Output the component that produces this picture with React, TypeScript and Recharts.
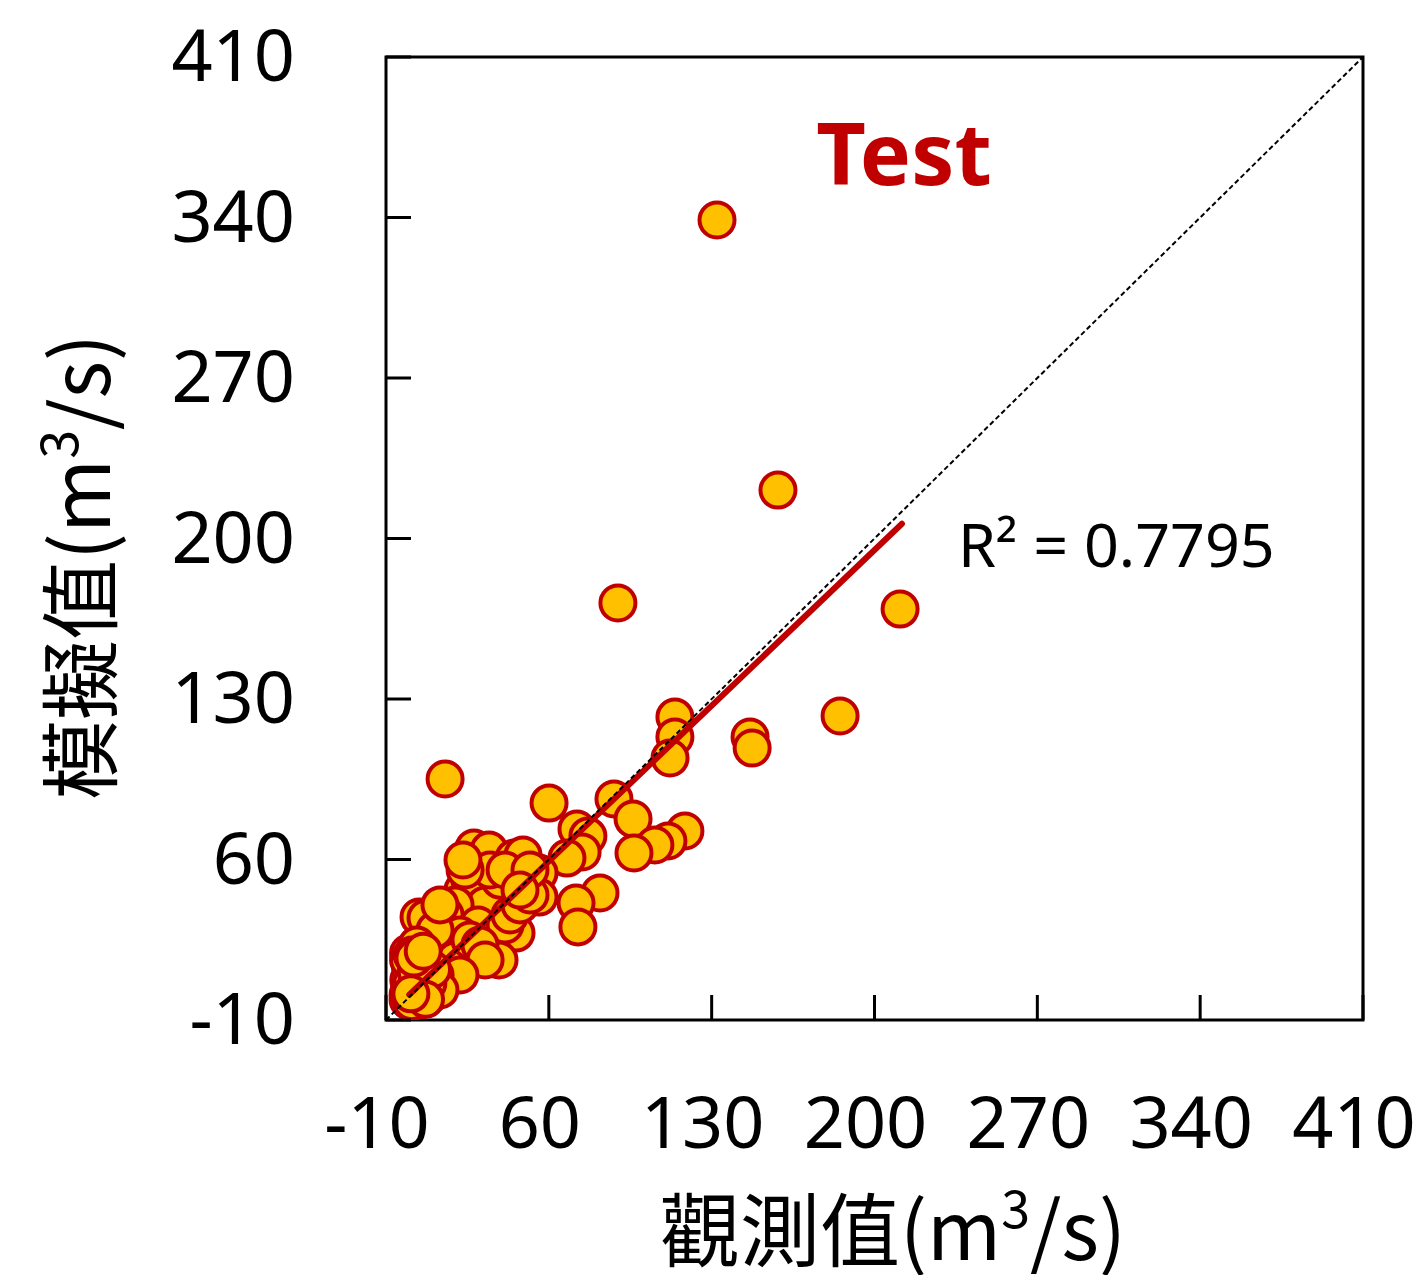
import React from "react";
import { ScatterChart, Scatter, XAxis, YAxis, ReferenceArea, ReferenceLine } from "recharts";

// observed vs simulated discharge (m3/s), test period
const TICKS = [-10, 60, 130, 200, 270, 340, 410];
const OBS = [
  132.3, 158.5, 89.7, 211.0, 185.2, 114.2, 114.2, 112.1, 146.5, 147.4,
  15.4, 60.1, 88.0, 96.2, 118.5, 111.2, 105.6, 96.6, 72.1, 76.8,
  74.3, 67.8, 82.0, 71.7, 72.5, 27.8, 34.3, 45.0, 48.9, 55.8,
  55.8, 47.2, 23.1, 41.6, 37.3, 4.2, 7.2, 8.5, 23.1, 27.4,
  36.0, 45.9, 38.6, 25.3, 18.8, 17.1, 12.8, 7.2, 1.6, 0.4,
  0.5, -0.3, 26.1, 30.4, 32.6, 19.7, 15.4, 29.6, 41.2, 43.3,
  47.6, 51.9, 39.0, 34.7, 21.8, 13.2, 8.9, 4.6, 0.3, 2.5,
  11.1, 15.4, 19.7, 26.1, 30.4, 32.6, 21.8, 8.9, 4.6, 0.3,
  0.0, -0.5, 0.8, 3.3, 13.2, 24.0, 41.2, 51.9, 47.6, 1.0,
  -0.5, 2.5, 6.8, -0.2, -0.3, 1.2, 5.5, 11.1, 13.2, 2.0,
  3.0, 5.0, 1.0, 4.0, 6.0, 3.0, 8.0, 10.0, 2.0, 6.0,
  1.0, 7.0, 23.1, 0.7,
];
const SIM = [
  338.9, 221.1, 171.9, 169.2, 122.6, 122.1, 113.4, 104.3, 113.4, 108.6,
  95.1, 84.6, 86.4, 77.7, 72.4, 68.1, 66.3, 62.8, 73.3, 70.2,
  63.3, 60.6, 45.4, 41.0, 30.6, 65.0, 64.1, 60.6, 62.0, 54.1,
  43.6, 48.9, 46.7, 43.6, 38.0, 34.9, 34.5, 24.9, 32.3, 38.0,
  32.3, 27.9, 16.2, 19.2, 24.0, 13.1, 4.4, 10.5, 3.1, -1.3,
  13.1, 19.2, 51.0, 44.5, 40.2, 40.2, 35.8, 31.4, 31.4, 35.8,
  40.2, 44.5, 51.0, 55.4, 27.1, 20.5, 16.2, 9.6, 7.4, 14.0,
  29.2, 11.8, 16.2, 24.9, 22.7, 16.2, 9.6, 0.9, -1.3, -2.0,
  3.1, -1.3, 9.6, 22.7, 40.2, 55.4, 55.4, 55.4, 46.7, -2.0,
  0.9, 3.1, 5.3, 7.4, 16.2, 18.3, 16.2, 9.6, 3.1, 0.0,
  2.0, 1.0, 6.0, 4.0, 8.0, 11.0, 6.0, 12.0, 17.0, 20.0,
  -2.0, -1.0, 59.8, 1.4,
];
const R2 = "0.7795";
const FIT_SLOPE = 0.97;
const FIT_INTERCEPT = 1.0;
const FIT_RANGE = [0, 211.8];

const points = OBS.map((x, i) => ({ x, y: SIM[i] }));
const fit = FIT_RANGE.map((x) => ({ x, y: FIT_SLOPE * x + FIT_INTERCEPT }));
const lo = TICKS[0];
const hi = TICKS[TICKS.length - 1];
const diag = [
  { x: lo, y: lo },
  { x: hi, y: hi },
];

const W = 1421;
const H = 1275;
const PLOT_LEFT = 386;
const PLOT_TOP = 57;
const PLOT_RIGHT = 1363;
const PLOT_BOTTOM = 1020;
const NUM_FONT = "'Noto Sans', 'DejaVu Sans', sans-serif";
const CJK_FONT = "'Noto Sans CJK TC', 'Noto Sans', sans-serif";

const XTick = (props: any) => {
  const { x, payload } = props;
  return (
    <g>
      <line x1={x} x2={x} y1={PLOT_BOTTOM} y2={PLOT_BOTTOM - 25} stroke="#000" strokeWidth={3} />
      <text x={x - 9} y={1148} textAnchor="middle" fontSize={72} fontFamily={NUM_FONT} fill="#000">
        {payload.value}
      </text>
    </g>
  );
};

const YTick = (props: any) => {
  const { y, payload } = props;
  return (
    <g>
      <line x1={PLOT_LEFT} x2={PLOT_LEFT + 25} y1={y} y2={y} stroke="#000" strokeWidth={3} />
      <text x={295} y={y + 24} textAnchor="end" fontSize={72} fontFamily={NUM_FONT} fill="#000">
        {payload.value}
      </text>
    </g>
  );
};

const Dot = (props: any) => (
  <circle cx={props.cx} cy={props.cy} r={17.5} fill="#FFC000" stroke="#C00000" strokeWidth={4} />
);

const renderTexts = () => (
  <g>
    <text x={904} y={185} textAnchor="middle" fontSize={86} fontWeight="bold" fontFamily={NUM_FONT} fill="#C00000">
      Test
    </text>
    <text x={958} y={567} fontSize={61} fontFamily={NUM_FONT} fill="#000">
      R² = {R2}
    </text>
    <text x={893} y={1260} textAnchor="middle" fontSize={80} fontFamily={CJK_FONT} fill="#000">
      觀測值(m
      <tspan dy={-32} fontSize={52}>3</tspan>
      <tspan dy={32}>/s)</tspan>
    </text>
    <text
      transform="translate(110, 567) rotate(-90)"
      textAnchor="middle"
      fontSize={80}
      fontFamily={CJK_FONT}
      fill="#000"
    >
      模擬值(m
      <tspan dy={-32} fontSize={52}>3</tspan>
      <tspan dy={32}>/s)</tspan>
    </text>
  </g>
);

export default function App() {
  return (
    <div style={{ position: "absolute", left: 0, top: 0, background: "#fff" }}>
      <ScatterChart
        width={W}
        height={H}
        margin={{ top: PLOT_TOP, right: W - PLOT_RIGHT, left: 0, bottom: 0 }}
      >
        <XAxis
          type="number"
          dataKey="x"
          domain={[lo, hi]}
          ticks={TICKS}
          interval={0}
          height={H - PLOT_BOTTOM}
          axisLine={false}
          tickLine={false}
          tick={<XTick />}
          allowDataOverflow
        />
        <YAxis
          type="number"
          dataKey="y"
          domain={[lo, hi]}
          ticks={TICKS}
          interval={0}
          width={PLOT_LEFT}
          axisLine={false}
          tickLine={false}
          tick={<YTick />}
          allowDataOverflow
        />
        <ReferenceArea
          x1={lo}
          x2={hi}
          y1={lo}
          y2={hi}
          fill="none"
          fillOpacity={0}
          stroke="#000"
          strokeWidth={3}
          label={renderTexts}
        />
        <Scatter data={points} shape={<Dot />} isAnimationActive={false} />
        <ReferenceLine
          segment={fit}
          stroke="#C00000"
          strokeWidth={6}
          strokeLinecap="round"
          zIndex={700}
        />
        <ReferenceLine
          segment={diag}
          stroke="#000"
          strokeWidth={2}
          strokeDasharray="5 3"
          zIndex={700}
        />
      </ScatterChart>
    </div>
  );
}
